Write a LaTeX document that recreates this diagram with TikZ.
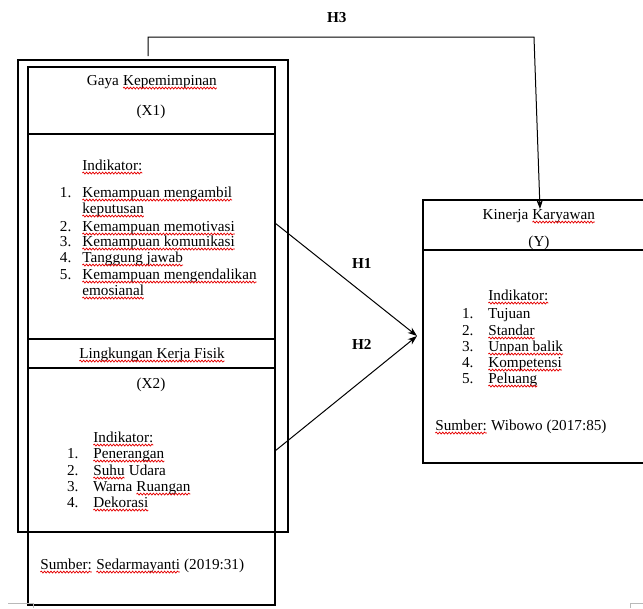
\documentclass[tikz,border=0pt]{standalone}
\usepackage{fontspec}
\setmainfont{Liberation Serif}
\usetikzlibrary{arrows.meta,decorations.pathmorphing}
\newcommand\sq[1]{\tikz[baseline=(sqw.base),x=1pt,y=1pt]{\node[inner sep=0pt,outer sep=0pt,anchor=base west] (sqw) at (0pt,0pt) {#1};\draw[red!90!black,line width=0.55pt,decorate,decoration={snake,amplitude=0.7pt,segment length=2.4pt}] ([yshift=-2.3pt]sqw.base west) -- ([yshift=-2.3pt]sqw.base east);}}
\begin{document}
\begin{tikzpicture}[x=0.75pt,y=-0.75pt,
  txt/.style={anchor=base west, inner sep=0pt, outer sep=0pt, font=\fontsize{11.4}{13}\selectfont},
  ctr/.style={txt, anchor=base},
  hyp/.style={txt, font=\fontsize{11.4}{13}\selectfont\bfseries},
  frame/.style={draw, line width=0.9pt},
  arr/.style={draw, line width=0.75pt, -{Stealth[length=7pt,width=5pt]}},
  pagemark/.style={draw, gray!55, line width=0.6pt}]
\useasboundingbox (0,0) rectangle (643,608);
\clip (0,0) rectangle (643,608);

% frames
\draw[frame] (18,60) rectangle (288,532);
\draw[frame] (28,67) rectangle (275,605);
\draw[frame] (28,134) -- (275,134);
\draw[frame] (28,339) -- (275,339);
\draw[frame] (28,368) -- (275,368);
\draw[frame] (423,200) rectangle (660,463);
\draw[frame] (423,250) -- (660,250);

% page marks
\draw[pagemark] (8,603) -- (33,603) -- (33,608);
\draw[pagemark] (643,603) -- (630,603) -- (630,608);

% connector points
\coordinate (h3s) at (148,56);
\coordinate (h3a) at (148,37);
\coordinate (h3b) at (534,37);
\coordinate (h3e) at (540,209);
\coordinate (x1e) at (275,223);
\coordinate (x2e) at (275,451);
\coordinate (ytip) at (417,336);

\draw[arr] (h3s) -- (h3a) -- (h3b) -- (h3e);
\draw[arr] (x1e) -- (ytip);
\draw[arr] (x2e) -- (ytip);

% labels
\node[hyp] (lh3) at (327,22) {H3};
\node[hyp] (lh1) at (352,268) {H1};
\node[hyp] (lh2) at (352,349) {H2};

% X1
\node[ctr] (x1t) at (152,85) {Gaya \sq{Kepemimpinan}};
\node[ctr] (x1c) at (151,115) {(X1)};
\node[txt] (x1i) at (82,170) {\sq{Indikator:}};
\node[txt] (x1n1) at (60,197) {1.};
\node[txt] (x1a) at (82,197) {\sq{Kemampuan mengambil}};
\node[txt] (x1a2) at (82,213) {\sq{keputusan}};
\node[txt] (x1n2) at (60,231) {2.};
\node[txt] (x1b) at (82,231) {\sq{Kemampuan memotivasi}};
\node[txt] (x1n3) at (60,246) {3.};
\node[txt] (x1c3) at (82,246) {\sq{Kemampuan komunikasi}};
\node[txt] (x1n4) at (60,262) {4.};
\node[txt] (x1d) at (82,262) {\sq{Tanggung jawab}};
\node[txt] (x1n5) at (60,279) {5.};
\node[txt] (x1e5) at (82,279) {\sq{Kemampuan mengendalikan}};
\node[txt] (x1e6) at (82,295) {\sq{emosianal}};

% X2
\node[ctr] (x2t) at (152,358) {\sq{Lingkungan Kerja Fisik}};
\node[ctr] (x2c) at (151,388) {(X2)};
\node[txt] (x2i) at (93,442) {\sq{Indikator:}};
\node[txt] (x2n1) at (67,458) {1.};
\node[txt] (x2a) at (93,458) {\sq{Penerangan}};
\node[txt] (x2n2) at (67,475) {2.};
\node[txt] (x2b) at (93,475) {\sq{Suhu} Udara};
\node[txt] (x2n3) at (67,491) {3.};
\node[txt] (x2c3) at (93,491) {Warna \sq{Ruangan}};
\node[txt] (x2n4) at (67,507) {4.};
\node[txt] (x2d) at (93,507) {\sq{Dekorasi}};
\node[txt] (x2s) at (40,569) {\sq{Sumber:} \sq{Sedarmayanti} (2019:31)};

% Y
\node[ctr] (yt) at (539,219) {Kinerja \sq{Karyawan}};
\node[ctr] (yc) at (539,246) {(Y)};
\node[txt] (yi) at (488,300) {\sq{Indikator:}};
\node[txt] (yn1) at (462,318) {1.};
\node[txt] (ya) at (488,318) {Tujuan};
\node[txt] (yn2) at (462,335) {2.};
\node[txt] (yb) at (488,335) {\sq{Standar}};
\node[txt] (yn3) at (462,351) {3.};
\node[txt] (yc3) at (488,351) {\sq{Unpan balik}};
\node[txt] (yn4) at (462,367) {4.};
\node[txt] (yd) at (488,367) {\sq{Kompetensi}};
\node[txt] (yn5) at (462,383) {5.};
\node[txt] (ye) at (488,383) {\sq{Peluang}};
\node[txt] (ys) at (435,430) {\sq{Sumber:} Wibowo (2017:85)};
\end{tikzpicture}
\end{document}
